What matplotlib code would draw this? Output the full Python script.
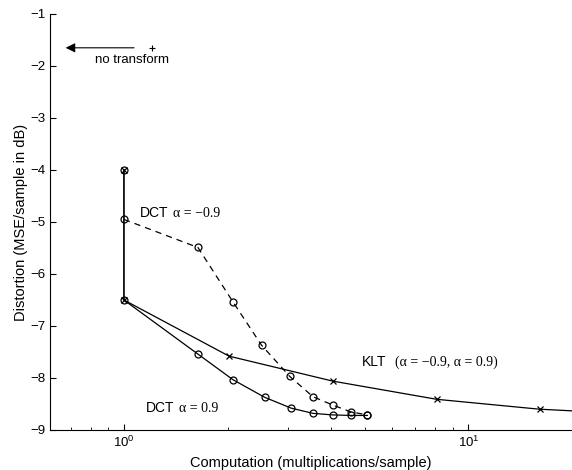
import matplotlib
matplotlib.use('Agg')
import matplotlib.pyplot as plt

plt.rcParams['font.family'] = ['Liberation Sans', 'DejaVu Sans']

# computation (mults/sample) vs distortion (dB)
klt_x = [1, 1, 2.02, 4.04, 8.1, 16.1, 32]
klt_y = [-4.0, -6.5, -7.58, -8.06, -8.41, -8.60, -8.70]

dct_pos_x = [1, 1, 1.64, 2.07, 2.56, 3.06, 3.54, 4.04, 4.55, 5.09]
dct_pos_y = [-4.0, -6.5, -7.54, -8.03, -8.37, -8.58, -8.68, -8.71, -8.72, -8.72]

dct_neg_x = [1, 1.64, 2.07, 2.51, 3.03, 3.54, 4.04, 4.55, 5.09]
dct_neg_y = [-4.95, -5.49, -6.53, -7.37, -7.97, -8.36, -8.52, -8.65, -8.71]

no_transform = (1.21, -1.65)

fig = plt.figure(figsize=(5.72, 4.70), dpi=100)
ax = fig.add_axes([50 / 572, 40 / 470, 522 / 572, 416 / 470])

ax.plot(klt_x, klt_y, 'k-', lw=0.9, marker='x', ms=5, mew=0.9)
ax.plot(dct_pos_x, dct_pos_y, 'k-', lw=0.9, marker='o', ms=5, mfc='none', mew=0.9)
ax.plot(dct_neg_x, dct_neg_y, 'k--', lw=0.9, marker='o', ms=5, mfc='none', mew=0.9,
        dashes=(5, 4))

ax.plot([no_transform[0]], [no_transform[1]], 'k+', ms=5, mew=0.8)
ax.annotate('', xy=(0.665, -1.65), xytext=(1.09, -1.65),
            arrowprops=dict(arrowstyle='-|>', color='k', lw=0.8,
                            mutation_scale=14))
ax.text(1.055, -1.88, 'no transform', fontsize=9.5, ha='center', va='center')


def label(x, y, name, formula, gap):
    ax.text(x, y, name, fontsize=10, va='center')
    ax.annotate(formula, xy=(x, y), xytext=(gap, 0), textcoords='offset points',
                fontsize=10, va='center', family='Liberation Serif')


label(1.11, -4.83, 'DCT', 'α = −0.9', 24)
label(4.9, -7.69, 'KLT', '(α = −0.9, α = 0.9)', 24)
label(1.16, -8.58, 'DCT', 'α = 0.9', 24)

ax.set_xscale('log')
ax.set_xlim(0.61, 20)
ax.set_ylim(-9, -1)
ax.set_yticks(range(-9, 0))
ax.spines['top'].set_visible(False)
ax.spines['right'].set_visible(False)
ax.tick_params(direction='in', labelsize=9.5, length=4)
ax.tick_params(which='minor', direction='in', length=2)

ax.set_xlabel('Computation (multiplications/sample)', fontsize=10.5, labelpad=4)
ax.set_ylabel('Distortion (MSE/sample in dB)', fontsize=10.5, labelpad=1)

fig.savefig('out.png', dpi=100)
